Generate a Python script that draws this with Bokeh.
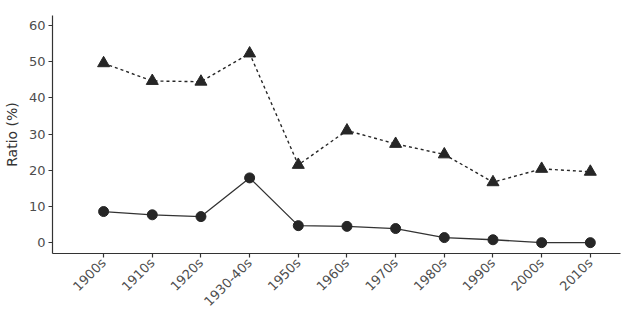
import math
from bokeh.plotting import figure
from bokeh.models import FixedTicker, Range1d
from bokeh.embed import file_html
from bokeh.resources import INLINE

decades = ["1900s", "1910s", "1920s", "1930-40s", "1950s", "1960s",
           "1970s", "1980s", "1990s", "2000s", "2010s"]
triangle_vals = [49.6, 44.7, 44.5, 52.3, 21.5, 31.0, 27.3, 24.4, 16.7, 20.4, 19.6]
circle_vals = [8.6, 7.7, 7.2, 17.9, 4.7, 4.5, 3.9, 1.4, 0.8, 0.0, 0.0]
y_ticks = [0, 10, 20, 30, 40, 50, 60]

xs = list(range(len(decades)))
FONT = "DejaVu Sans"
DARK = "#262626"

p = figure(width=628, height=310, output_backend="svg", toolbar_location=None,
           frame_width=568, frame_height=238,
           min_border_left=52, min_border_top=15, min_border_right=8,
           min_border_bottom=57,
           x_range=Range1d(-1.05, 10.62), y_range=Range1d(-3.0, 62.8))

p.line(xs, triangle_vals, line_color=DARK, line_width=1.4, line_dash="3 3")
p.scatter(xs, triangle_vals, marker="triangle", size=12, fill_color=DARK,
          line_color=DARK)
p.line(xs, circle_vals, line_color="#333333", line_width=1.3)
p.scatter(xs, circle_vals, marker="circle", size=10, fill_color=DARK,
          line_color=DARK)

p.xgrid.visible = False
p.ygrid.visible = False
p.outline_line_color = None
p.background_fill_color = "white"
p.border_fill_color = "white"

p.xaxis.ticker = FixedTicker(ticks=xs)
p.xaxis.major_label_overrides = {i: d for i, d in enumerate(decades)}
p.xaxis.major_label_orientation = math.pi / 4
p.yaxis.ticker = FixedTicker(ticks=y_ticks)
p.yaxis.axis_label = "Ratio (%)"

for ax in (p.xaxis, p.yaxis):
    ax.axis_line_color = "#333333"
    ax.axis_line_width = 1.2
    ax.major_tick_line_color = "#333333"
    ax.major_tick_line_width = 1.2
    ax.major_tick_out = 4
    ax.major_tick_in = 0
    ax.minor_tick_line_color = None
    ax.major_label_text_font = FONT
    ax.major_label_text_font_size = "13px"
    ax.major_label_text_color = "#4d4d4d"
    ax.major_label_standoff = 3
    ax.axis_label_text_font = FONT
    ax.axis_label_text_font_size = "14px"
    ax.axis_label_text_font_style = "normal"
    ax.axis_label_text_color = "#333333"
    ax.axis_label_standoff = 6

open("out.html", "w").write(file_html(p, INLINE))
